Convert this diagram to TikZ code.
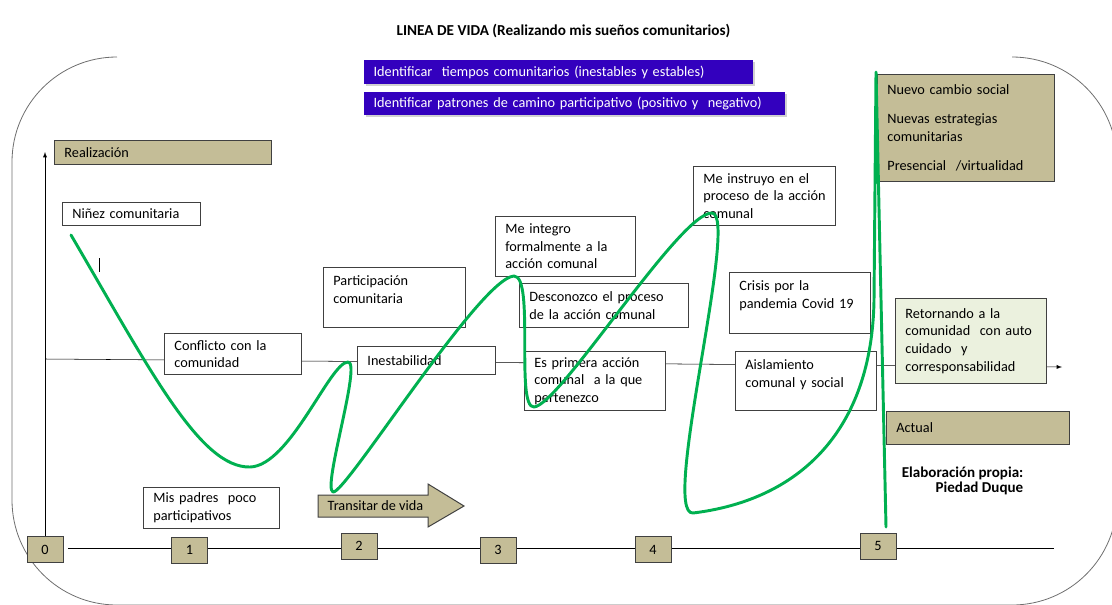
\documentclass[tikz,border=0pt]{standalone}
\usepackage{fontspec}
\setmainfont{Carlito}
\usepackage{tikz}
\usetikzlibrary{shapes,arrows}
\usetikzlibrary{shadows}

\definecolor{tanbox}{RGB}{196,189,151}
\definecolor{boxline}{RGB}{64,64,64}
\definecolor{framegray}{RGB}{110,110,110}
\definecolor{lifegreen}{RGB}{0,176,80}
\definecolor{barblue}{RGB}{51,0,190}
\definecolor{paleolive}{RGB}{235,241,222}

\newcommand{\cellfont}{\fontsize{10.7}{13.2}\selectfont\hyphenpenalty=10000}
\newcommand{\toptext}[2]{\parbox[t][#1][t]{\linewidth}{\raggedright\rule{0pt}{10.5pt}#2}}

\tikzset{
  cell/.style={draw=boxline, fill=white, line width=0.6pt, anchor=north west, align=left, inner xsep=7.5pt, inner ysep=3pt, font=\cellfont},
  tancell/.style={cell, fill=tanbox},
  numbox/.style={draw=boxline, fill=tanbox, line width=0.75pt, minimum width=27pt, minimum height=19.5pt, inner sep=0pt, font=\cellfont},
  bluebar/.style={fill=barblue, text=white, anchor=north west, align=left, inner xsep=7pt, inner ysep=2pt, font=\cellfont, drop shadow={shadow xshift=1.5pt, shadow yshift=-1.5pt, fill=black!18, opacity=1}},
  lifeline/.style={draw=lifegreen, line width=2.2pt, line cap=round, line join=round}
}

\begin{document}
\begin{tikzpicture}[x=0.75pt,y=0.75pt,yscale=-1,xscale=1]
    \useasboundingbox (0,0) rectangle (1112,604);
    \clip (0,0) rectangle (1112,604);

    %Rounded frame
    \draw [framegray, line width=0.6pt, rounded corners=78.75pt] (1012,57) -- (1117,57) -- (1117,605) -- (12,605) -- (12,57) -- (117,57) ;

    % Text Node
    \node [font=\bfseries\fontsize{11.4}{13}\selectfont] (title) at (563.5,31) {LINEA DE VIDA (Realizando mis sueños comunitarios)};
    % Blue bars
    \node [bluebar, text width=277.5pt, minimum height=18pt] (bar1) at (364,60) {Identificar~ tiempos comunitarios (inestables y estables)};
    \node [bluebar, text width=301.5pt, minimum height=17.25pt] (bar2) at (364,92) {Identificar patrones de camino participativo (positivo y~ negativo)};

    %Straight Lines
    \coordinate (mid-start) at (46,359);
    \coordinate (mid-end) at (1062,367);
    \draw [-latex] (mid-start) -- (mid-end) ;
    \coordinate (tl-start) at (68,548);
    \coordinate (tl-end) at (1054,548);
    \draw (tl-start) -- (tl-end) ;

    % Number boxes
    \node [numbox] (n0) at (45,549.5) {0};
    \node [numbox] (n1) at (189.5,550) {1};
    \node [numbox] (n2) at (359,546) {2};
    \node [numbox] (n3) at (498,550) {3};
    \node [numbox] (n4) at (653,549.5) {4};
    \node [numbox] (n5) at (878,546) {5};

    %Axis
    \coordinate (axis-top) at (46,152);
    \draw [-latex] (n0.north) -- (n0.north |- axis-top) ;

    % Text Node
    \node [tancell, text width=147.75pt, minimum height=18pt] (realiz) at (54,140) {Realización};
    \node [cell, text width=88.5pt, minimum height=17.25pt] (ninez) at (62,202) {Niñez comunitaria};
    \draw (99,258) -- (99,272) ;
    \node [cell, text width=87.75pt, minimum height=30.75pt] (conflicto) at (164,333) {Conflicto con la\\comunidad};
    \node [cell, text width=91.5pt, minimum height=45pt] (partic) at (323,267) {\toptext{39pt}{Participación\\comunitaria}};
    \node [cell, text width=88.5pt, minimum height=21pt] (inestab) at (357,346) {Inestabilidad};
    \node [cell, text width=90pt, minimum height=45pt] (integro) at (495,216) {Me integro\\formalmente a la\\acción comunal};
    \node [cell, text width=111.75pt, minimum height=33pt] (descon) at (519,283) {Desconozco el proceso\\de la acción comunal};
    \node [cell, text width=90.75pt, minimum height=44.25pt] (primera) at (524,351) {Es primera acción\\comunal~ a la que\\pertenezco};
    \node [cell, text width=91.5pt, minimum height=44.25pt] (instruyo) at (693,166) {Me instruyo en el\\\mbox{proceso de la acción}\\comunal};
    \node [cell, text width=90.75pt, minimum height=45.75pt] (crisis) at (729,272) {\toptext{39.75pt}{Crisis por la\\pandemia Covid 19}};
    \node [cell, text width=90.75pt, minimum height=44.25pt] (aisla) at (735,351) {\toptext{38.25pt}{Aislamiento\\comunal y social}};
    \node [cell, fill=paleolive, text width=98.25pt, minimum height=63.75pt] (retorno) at (895,298) {Retornando a la\\comunidad~ con auto\\cuidado~ y\\corresponsabilidad};
    \node [tancell, text width=117.75pt, minimum height=80pt] (nuevo) at (877,74) {Nuevo cambio social\\[8.5pt]Nuevas estrategias\\comunitarias\\[8.5pt]Presencial~ /virtualidad};
    \node [tancell, text width=122.25pt, minimum height=24.75pt] (actual) at (886,411) {Actual};
    \node [cell, text width=87pt, minimum height=30.75pt] (padres) at (143,487) {Mis padres~ poco\\participativos};
    \node [anchor=north east, align=right, font=\bfseries\fontsize{11.3}{11.6}\selectfont] (credit) at (1028,462) {Elaboración propia:\\Piedad Duque};

    %Right Arrow
    \draw [draw=boxline, fill=tanbox, line width=0.75pt] (318,495) -- (428,495) -- (428,484) -- (464,506) -- (428,527) -- (428,517) -- (318,517) -- cycle ;
    \node [anchor=west, font=\cellfont] (transit) at (323,506) {Transitar de vida};

    %Curve Lines
    \draw [lifeline] (71,235) .. controls (150,370) and (200,468) .. (250,467)
      .. controls (290,466) and (330,362) .. (348,362)
      .. controls (362,362) and (322,488) .. (333,492)
      .. controls (345,495) and (480,278) .. (514,276)
      .. controls (535,276) and (515,408) .. (534,407)
      .. controls (560,405) and (680,212) .. (712,213)
      .. controls (740,215) and (660,515) .. (693,513)
      .. controls (800,500) and (872,430) .. (874,300)
      -- (876,72) -- (886,527) ;

\end{tikzpicture}
\end{document}
